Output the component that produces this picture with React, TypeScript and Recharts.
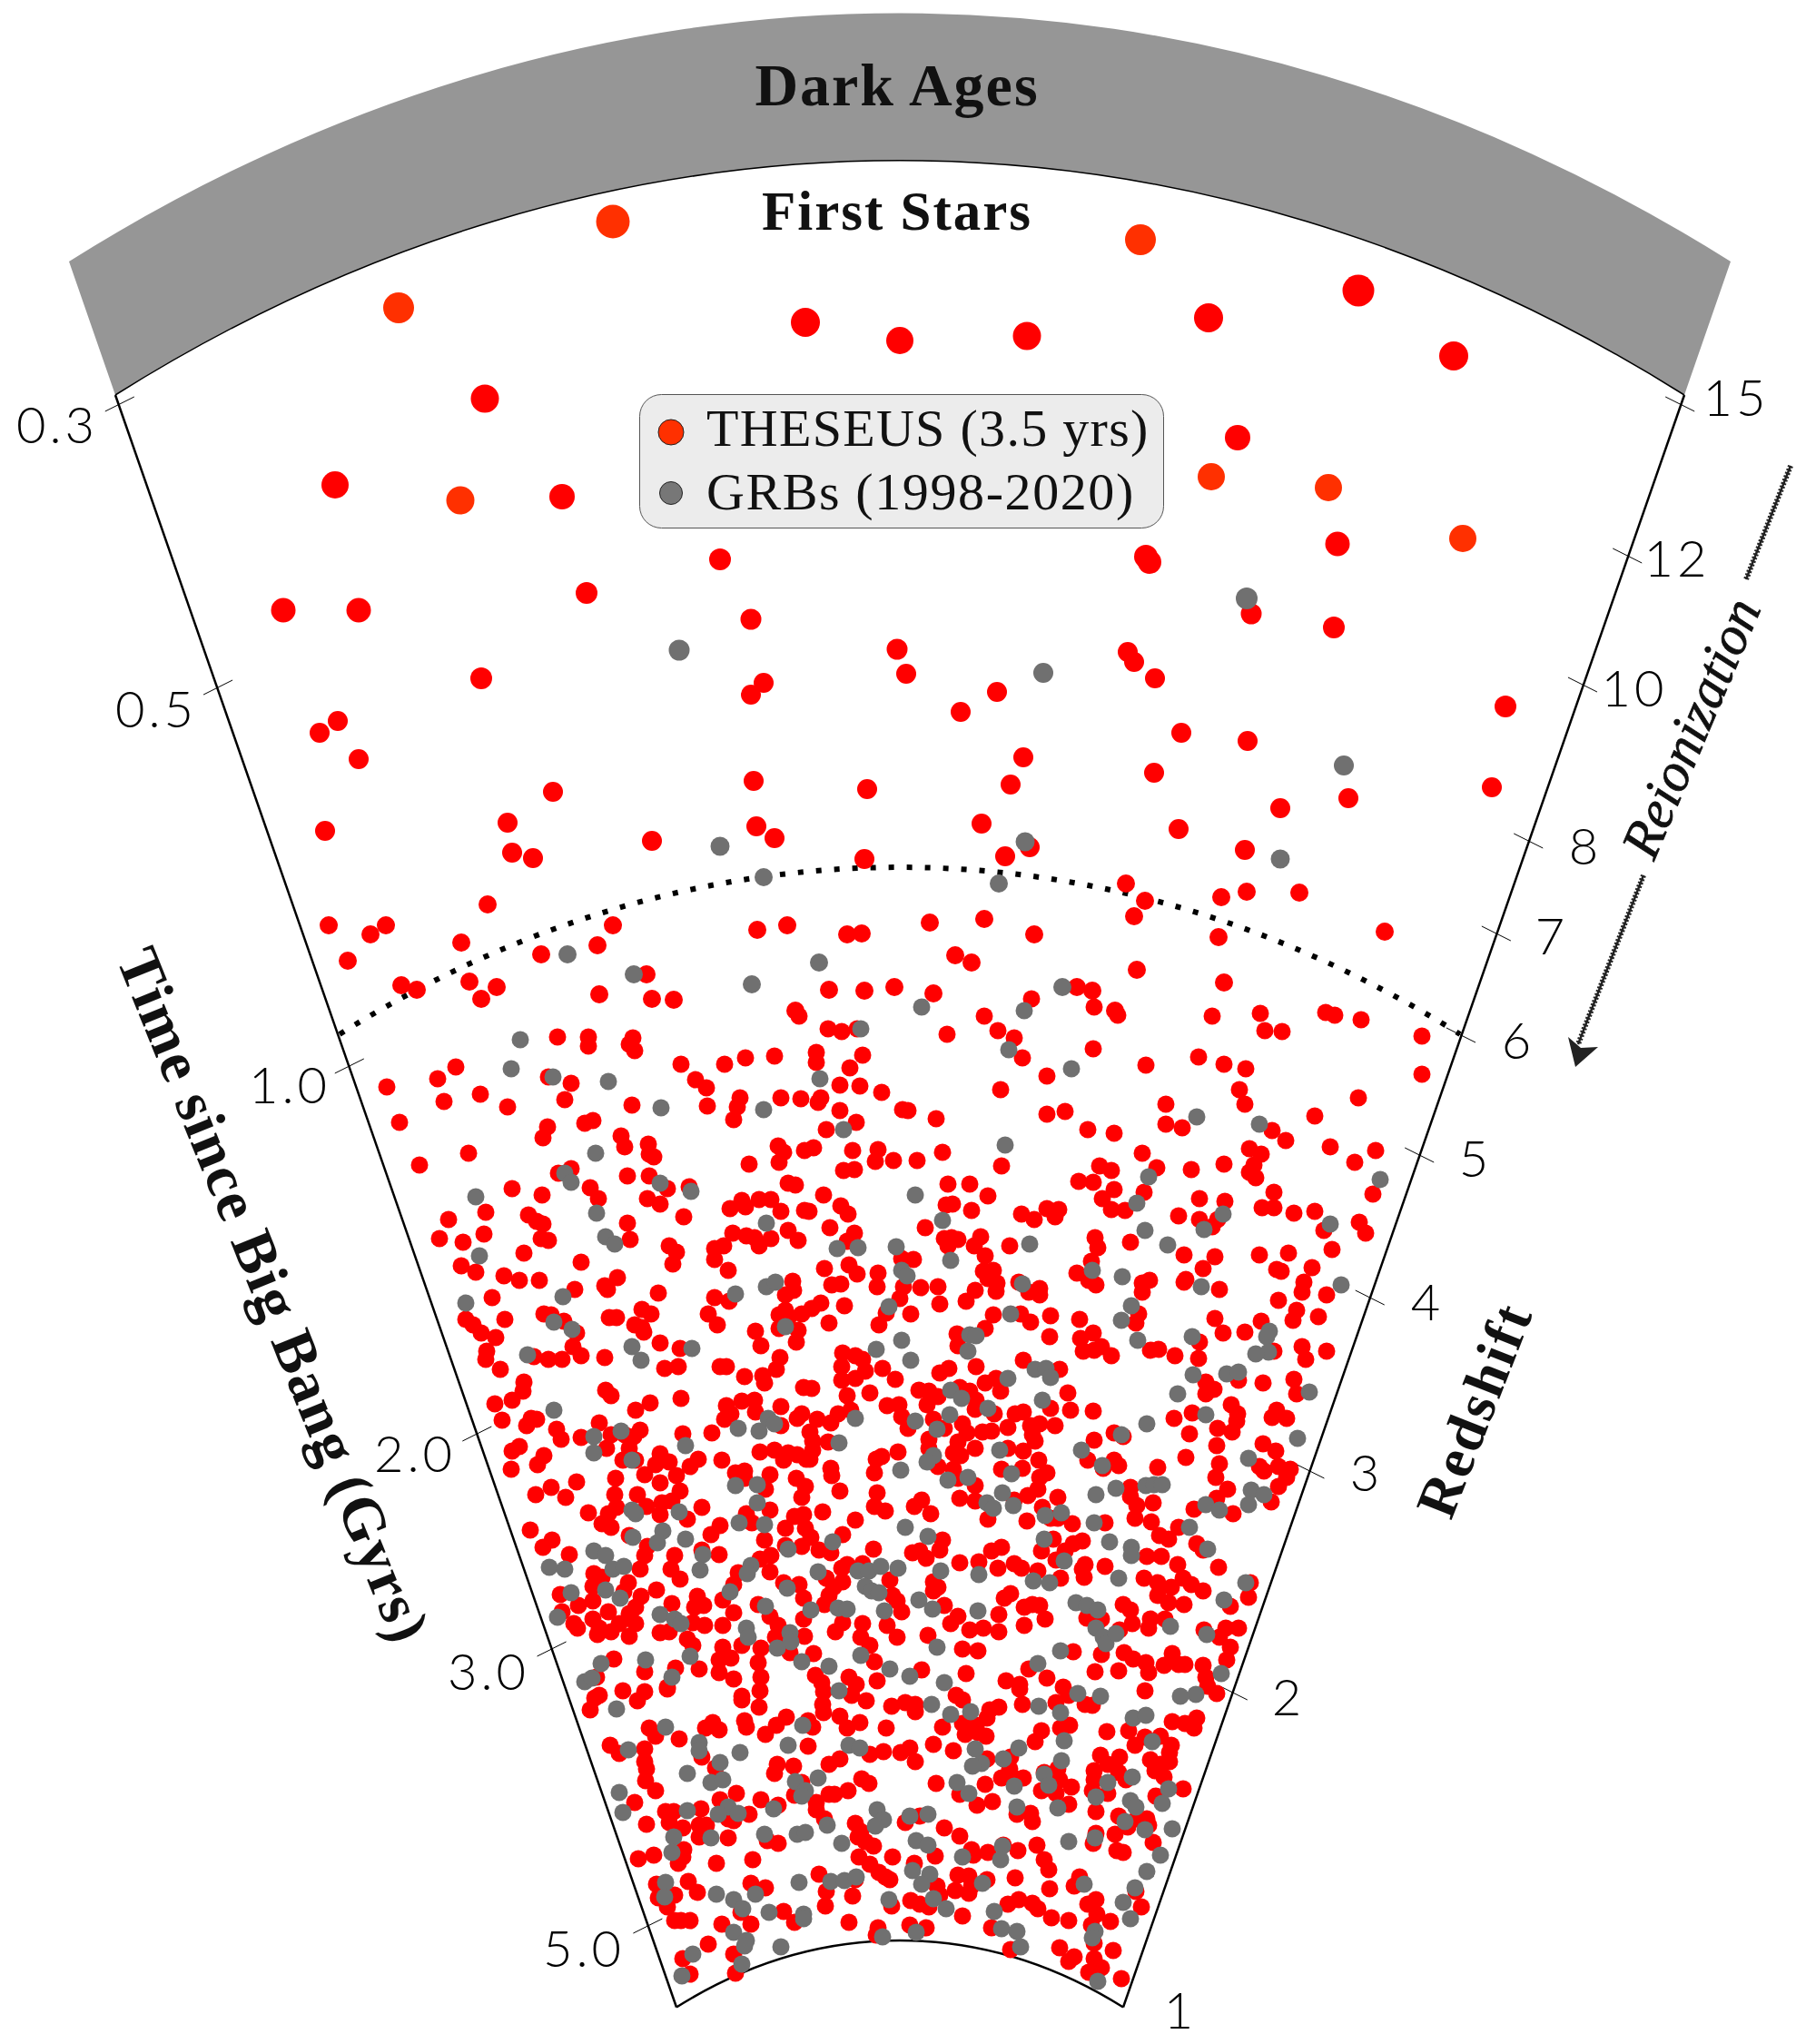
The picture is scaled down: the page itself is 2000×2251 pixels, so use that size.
import React from 'react';
import { ScatterChart, Scatter, XAxis, YAxis, ReferenceLine, Legend } from 'recharts';

type Pt = number[];

// picture coordinates: [x, y] or [x, y, radius]
const firstStarsOrange: Pt[] = [[675,244,18.5],[1256,264,17],[439,339,17],[507,551,15.5],[1334,525,15],[1463,537,15],[1611,593,15]];
const theseusBright: Pt[] = [[887,355,16],[991,375,15],[1131,370,15.5],[1331,350,16],[1496,320,17.5],[1601,392,16],[534,439,15.5],[369,534,15],[619,547,14],[1363,482,14],[1473,599,13.5],[1262,613,13],[1266,619,13],[793,616,12],[646,653,12],[312,672,13.5],[395,672,13.5],[827,682,11.5],[1378,676,11.5],[1469,691,12],[988,715,11.5],[530,747,12],[1658,778,12]];
const theseusUpper: Pt[] = [[1242,718],[1249,729],[1272,747],[998,742],[841,752],[827,765],[1098,762],[1058,784],[372,794],[352,807],[1301,807],[1374,816],[395,836],[1127,834],[1271,851],[830,860],[1113,864],[955,869],[1643,867],[1485,879],[609,872],[1410,890],[559,906],[358,915],[833,910],[1081,907],[853,923],[1298,913],[718,926],[1134,933],[1371,936],[564,939],[587,945],[952,946],[1107,943]];
const theseusMiddle: Pt[] = [[1240,973],[1431,983],[1373,982],[1345,988],[1261,992],[537,996],[1084,1012],[1249,1009],[362,1019],[425,1019],[408,1029],[675,1019],[834,1024],[867,1019],[1024,1016],[1525,1026],[933,1029],[949,1028],[1139,1029],[1342,1032],[508,1038],[658,1041],[383,1058],[596,1051],[1052,1052],[1070,1060],[1252,1068],[712,1073],[442,1085],[459,1090],[517,1081],[547,1087],[913,1090],[952,1091],[985,1087],[1348,1082],[1186,1087],[1203,1091],[660,1095],[530,1100],[718,1100],[742,1101],[876,1113],[1028,1094],[1228,1113]];
const theseusLeftUpper: Pt[] = [[426,1197],[440,1236],[462,1283],[482,1188],[502,1175],[489,1213],[529,1205],[559,1219],[516,1270],[614,1142],[648,1142],[648,1152],[697,1143],[693,1150],[699,1157],[604,1186],[629,1193],[622,1211],[603,1241],[598,1253],[644,1237],[653,1234],[696,1217],[684,1251],[688,1263],[714,1260],[715,1271],[720,1274],[750,1172],[766,1189],[778,1198],[779,1218],[798,1172],[821,1165],[853,1163],[815,1209],[812,1219],[808,1233],[860,1209],[882,1210],[904,1209],[901,1214],[880,1119],[912,1133],[927,1136],[944,1133],[899,1159],[899,1170],[950,1162],[936,1176],[925,1195],[947,1196],[971,1203],[925,1223],[943,1236],[910,1244],[994,1222],[857,1262],[863,1269],[858,1280],[825,1282],[886,1267],[896,1264],[939,1267],[967,1266],[964,1279],[984,1278],[929,1289],[941,1288],[615,1292],[629,1287],[564,1309],[597,1316],[650,1308],[659,1320],[691,1295],[715,1295],[735,1309],[759,1307],[713,1320],[727,1326],[753,1340],[868,1303],[876,1305],[907,1316],[926,1328],[934,1337],[804,1331],[817,1322],[821,1329],[836,1321],[849,1321],[860,1334],[886,1333],[891,1334],[914,1352],[941,1358],[933,1367],[535,1335],[494,1343],[533,1359],[484,1364],[510,1368],[582,1338],[591,1345],[598,1348],[596,1364],[604,1366],[577,1380],[691,1347],[694,1365],[640,1390],[737,1372],[745,1379],[741,1392],[807,1358],[822,1361],[831,1363],[836,1372],[849,1364],[868,1355],[879,1366],[787,1375],[797,1372],[787,1387],[802,1399],[908,1397],[935,1393],[944,1403],[967,1402],[966,1417],[993,1386],[508,1394],[524,1401],[555,1405],[572,1410],[594,1410],[680,1407],[666,1416],[669,1420],[633,1420],[725,1424],[542,1429],[873,1411],[874,1421],[865,1426],[916,1415],[926,1414],[995,1417],[991,1430],[787,1429],[803,1433],[930,1438],[904,1435],[894,1441],[883,1447],[865,1443],[858,1448],[869,1450],[780,1447],[790,1459],[976,1446],[968,1459],[913,1457],[707,1442],[717,1447],[671,1451],[679,1451],[699,1459],[707,1462],[709,1467],[599,1447],[607,1448],[621,1455],[635,1468],[556,1453],[513,1453],[521,1459],[530,1468],[546,1473],[832,1466],[838,1482],[858,1463],[879,1465],[877,1478],[727,1479],[749,1485],[631,1483],[640,1493],[536,1488],[535,1497],[859,1495],[928,1490],[942,1493],[950,1497],[666,1495],[588,1494],[604,1497],[619,1497]];
const theseusRightUpper: Pt[] = [[1043,1139],[1084,1119],[1099,1135],[1117,1143],[1126,1165],[1136,1100],[1205,1109],[1231,1118],[1204,1155],[1153,1185],[1102,1200],[1262,1173],[1335,1119],[1388,1116],[1393,1135],[1412,1136],[1460,1115],[1470,1118],[1499,1123],[1566,1141],[1566,1183],[1320,1164],[1348,1172],[1372,1177],[1365,1200],[1371,1216],[1496,1209],[1448,1229],[1284,1216],[1284,1238],[1302,1242],[1401,1245],[1416,1256],[1465,1263],[1515,1267],[1492,1280],[1376,1265],[1389,1271],[1381,1283],[1376,1291],[1383,1297],[1348,1282],[1312,1288],[1258,1270],[1274,1286],[1211,1284],[1224,1289],[1188,1301],[1204,1302],[1227,1310],[1260,1313],[1214,1320],[1224,1332],[1239,1333],[1403,1313],[1390,1330],[1403,1330],[1425,1336],[1448,1334],[1458,1355],[1497,1346],[1504,1358],[1512,1315],[1467,1376],[1321,1320],[1349,1323],[1298,1339],[1321,1343],[1341,1343],[1335,1351],[1245,1368],[1206,1363],[1209,1374],[1202,1389],[1186,1402],[1199,1410],[1207,1415],[1304,1382],[1338,1384],[1325,1397],[1306,1409],[1304,1412],[1343,1420],[1387,1382],[1419,1380],[1406,1398],[1411,1400],[1445,1396],[1436,1412],[1434,1423],[1461,1426],[1408,1432],[1428,1443],[1424,1454],[1452,1450],[1389,1455],[1338,1452],[1347,1468],[1371,1467],[1434,1483],[1461,1488],[1438,1497],[1403,1488],[1266,1410],[1258,1413],[1258,1423],[1254,1447],[1251,1457],[1321,1478],[1320,1496],[1294,1493],[1276,1486],[1267,1487],[1189,1453],[1156,1472],[1157,1449],[1135,1456],[1124,1447],[1127,1498],[1204,1468],[1190,1474],[1213,1483],[1193,1488],[1205,1487],[1224,1493],[1000,1223],[1031,1232],[1153,1227],[1173,1224],[1198,1244],[1227,1248],[1038,1269],[1010,1278],[1103,1284],[1044,1304],[1068,1304],[1088,1317],[1049,1326],[1042,1327],[1070,1333],[1019,1352],[1125,1337],[1139,1343],[1153,1331],[1166,1332],[1162,1340],[1040,1364],[1048,1363],[1055,1365],[1044,1372],[1080,1362],[1073,1372],[1085,1383],[1112,1372],[1006,1387],[1083,1400],[1094,1399],[1088,1408],[1098,1413],[1074,1421],[1097,1422],[1064,1433],[1014,1418],[1033,1417],[1035,1436],[1003,1447],[1122,1412],[1133,1423],[1145,1419],[1145,1426],[1094,1448],[1085,1463],[1054,1469],[1055,1482]];
const theseusLeftMiddle: Pt[] = [[551,1508],[577,1522],[576,1532],[564,1542],[545,1546],[553,1564],[580,1570],[591,1563],[585,1562],[613,1574],[618,1585],[640,1583],[572,1593],[564,1598],[599,1603],[592,1613],[563,1618],[635,1632],[607,1638],[590,1646],[623,1649],[648,1666],[584,1685],[608,1696],[598,1704],[627,1712],[667,1531],[673,1537],[700,1553],[716,1545],[750,1540],[660,1567],[668,1595],[673,1580],[688,1580],[705,1575],[698,1582],[693,1595],[686,1608],[700,1608],[752,1579],[727,1601],[737,1610],[722,1613],[710,1624],[760,1615],[769,1607],[745,1625],[727,1633],[678,1628],[749,1642],[677,1646],[702,1646],[679,1660],[670,1667],[712,1659],[729,1655],[740,1653],[727,1668],[757,1673],[773,1660],[663,1678],[673,1682],[693,1691],[793,1680],[783,1690],[713,1703],[710,1713],[792,1712],[773,1707],[743,1713],[739,1728],[749,1739],[705,1728],[654,1733],[653,1747],[663,1737],[692,1743],[687,1753],[723,1751],[617,1756],[637,1768],[653,1763],[706,1758],[700,1770],[670,1775],[619,1775],[653,1783],[632,1788],[636,1793],[660,1793],[673,1797],[682,1788],[693,1777],[700,1788],[693,1802],[658,1800],[740,1766],[727,1798],[737,1797],[768,1758],[775,1768],[765,1770],[763,1787],[776,1790],[757,1805],[763,1812],[770,1838],[744,1837],[735,1858],[676,1827],[710,1841],[657,1847],[660,1867],[686,1862],[710,1863],[784,1578],[795,1608],[800,1548],[798,1563],[805,1557],[817,1543],[831,1542],[832,1555],[820,1516],[842,1523],[840,1515],[855,1508],[793,1505],[800,1505],[732,1507],[747,1505],[860,1549],[860,1570],[883,1557],[878,1562],[900,1563],[915,1567],[923,1557],[937,1553],[892,1577],[895,1587],[912,1588],[895,1597],[888,1607],[878,1602],[868,1600],[863,1608],[853,1597],[837,1599],[892,1607],[885,1528],[894,1529],[933,1537],[958,1534],[927,1505],[927,1520],[942,1518],[953,1510],[972,1507],[986,1519],[977,1548],[990,1547],[993,1560],[1000,1573],[989,1599],[971,1604],[965,1607],[963,1622],[915,1617],[916,1625],[925,1642],[966,1644],[963,1659],[975,1664],[906,1665],[942,1674],[848,1624],[877,1628],[887,1637],[883,1649],[848,1663],[843,1640],[820,1620],[810,1622],[820,1628],[822,1667],[828,1677],[842,1696],[865,1683],[875,1670],[885,1668],[887,1683],[893,1693],[928,1690],[883,1703],[865,1702],[902,1707],[915,1710],[962,1706],[837,1717],[849,1713],[848,1731],[813,1732],[933,1723],[927,1727],[910,1738],[928,1742],[918,1748],[980,1740],[950,1722],[863,1743],[880,1745],[885,1760],[908,1767],[913,1757],[835,1767],[848,1780],[857,1790],[808,1745],[796,1762],[808,1776],[796,1790],[885,1783],[886,1802],[854,1803],[928,1787],[920,1797],[950,1788],[948,1803],[958,1812],[977,1790],[988,1803],[988,1763],[993,1775],[796,1814],[792,1828],[805,1826],[817,1812],[838,1815],[835,1831],[792,1842],[808,1849],[838,1847],[837,1862],[817,1868],[896,1821],[870,1820],[898,1845],[905,1853],[907,1863],[935,1847],[943,1855],[966,1851],[963,1830],[983,1757]];
const theseusRightMiddle: Pt[] = [[1035,1512],[1045,1507],[1075,1505],[1012,1531],[1023,1532],[1033,1538],[1021,1547],[1057,1528],[1068,1532],[1085,1523],[1097,1518],[1102,1532],[1075,1542],[1074,1552],[1095,1557],[1028,1563],[1040,1573],[1023,1585],[1023,1595],[1033,1615],[1060,1568],[1065,1578],[1055,1588],[1050,1600],[1058,1603],[1074,1595],[1082,1577],[1092,1576],[1050,1618],[1055,1628],[1074,1636],[1057,1650],[1074,1653],[1110,1572],[1118,1557],[1127,1555],[1135,1570],[1145,1568],[1162,1570],[1137,1580],[1140,1587],[1110,1595],[1127,1598],[1144,1608],[1103,1618],[1126,1617],[1153,1622],[1145,1627],[1143,1640],[1132,1647],[1117,1652],[1176,1534],[1179,1553],[1157,1551],[1204,1554],[1167,1508],[1165,1649],[1148,1660],[1131,1675],[1088,1673],[1157,1672],[1181,1678],[1165,1672],[1015,1652],[1007,1659],[1025,1667],[1205,1586],[1227,1578],[1237,1582],[1198,1608],[1227,1608],[1232,1614],[1215,1617],[1275,1616],[1245,1638],[1245,1648],[1270,1655],[1252,1658],[1250,1672],[1268,1676],[1277,1691],[1287,1695],[1298,1682],[1217,1677],[1293,1562],[1313,1556],[1310,1579],[1306,1605],[1328,1522],[1337,1530],[1328,1535],[1391,1523],[1364,1520],[1425,1519],[1428,1535],[1356,1547],[1363,1557],[1362,1565],[1341,1573],[1357,1577],[1340,1592],[1343,1612],[1339,1627],[1352,1640],[1340,1650],[1406,1553],[1401,1561],[1417,1562],[1391,1590],[1405,1598],[1387,1615],[1392,1620],[1408,1615],[1421,1618],[1417,1627],[1408,1637],[1400,1654],[1315,1662],[1358,1667],[1318,1700],[1325,1707],[1342,1726],[1297,1723],[1279,1714],[1263,1714],[1260,1738],[1275,1743],[1303,1738],[1290,1748],[1312,1745],[1325,1752],[1275,1757],[1287,1765],[1304,1767],[1375,1759],[1355,1769],[1377,1743],[1217,1725],[1195,1723],[1192,1728],[1194,1737],[1237,1767],[1245,1773],[1247,1788],[1233,1795],[1197,1782],[1213,1783],[1213,1822],[1267,1783],[1283,1783],[1265,1793],[1326,1795],[1350,1793],[1364,1793],[1343,1803],[1355,1814],[1351,1828],[1238,1820],[1248,1827],[1262,1831],[1265,1842],[1282,1834],[1291,1821],[1298,1833],[1305,1833],[1325,1834],[1328,1847],[1330,1857],[1340,1865],[1206,1841],[1232,1840],[1261,1862],[1182,1819],[1038,1696],[1035,1707],[1020,1716],[1005,1710],[1013,1708],[1057,1721],[1078,1720],[1092,1708],[1103,1704],[1099,1727],[1117,1722],[1125,1727],[1143,1730],[1147,1708],[1160,1695],[1163,1718],[1173,1708],[1182,1700],[1192,1697],[1168,1738],[1028,1742],[1028,1752],[1033,1748],[1040,1768],[1055,1780],[1047,1788],[1068,1795],[1083,1793],[1077,1818],[1060,1816],[1100,1797],[1100,1778],[1106,1760],[1113,1755],[1128,1770],[1128,1790],[1137,1767],[1145,1768],[1151,1783],[1022,1801],[1015,1839],[1064,1843],[1108,1851],[1123,1855],[1133,1838],[1153,1848],[1171,1858]];
const theseusLeftLower: Pt[] = [[650,1883],[655,1870],[702,1873],[735,1860],[715,1903],[722,1912],[748,1915],[672,1922],[682,1931],[710,1926],[710,1940],[712,1948],[711,1961],[722,1972],[699,1985],[785,1897],[777,1903],[792,1905],[773,1935],[788,1947],[817,1872],[836,1880],[820,1895],[822,1902],[843,1910],[855,1900],[866,1891],[890,1895],[895,1902],[890,1923],[906,1877],[907,1886],[938,1867],[954,1873],[925,1890],[933,1903],[947,1897],[982,1879],[976,1903],[997,1875],[856,1943],[853,1953],[874,1945],[913,1943],[925,1937],[883,1963],[875,1977],[913,1976],[919,1976],[934,1972],[949,1959],[957,1964],[958,1932],[973,1929],[992,1930],[899,1985],[899,1993],[908,2003],[838,1982],[857,1988],[811,1975],[793,1982],[742,1995],[733,1995],[737,2007],[752,2013],[712,2009],[772,1992],[770,2010],[778,2010],[770,2023],[802,2024],[825,1998],[808,2005],[802,2003],[845,2027],[857,2030],[753,2037],[752,2045],[747,2052],[720,2043],[703,2047],[789,2052],[829,2048],[942,2008],[948,2017],[945,2023],[953,2028],[962,2033],[946,2045],[958,2053],[968,2062],[975,2067],[980,2070],[983,2045],[997,2007],[758,2072],[768,2084],[723,2075],[725,2090],[743,2087],[735,2100],[743,2115],[750,2115],[760,2115],[827,2074],[843,2079],[816,2106],[827,2119],[795,2119],[863,2105],[875,2117],[902,2064],[910,2083],[909,2099],[939,2088],[942,2070],[935,2117],[982,2099],[780,2141],[752,2157],[760,2174],[808,2152],[810,2173],[967,2123],[965,2131]];
const theseusRightLower: Pt[] = [[1008,1877],[1008,1885],[1053,1867],[1060,1872],[1100,1880],[1090,1883],[1126,1877],[1123,1860],[1163,1875],[1177,1867],[1195,1877],[1203,1878],[1038,1902],[1028,1921],[1050,1928],[1060,1898],[1063,1910],[1075,1900],[1087,1892],[1086,1912],[1077,1908],[1178,1900],[1168,1903],[1147,1906],[1140,1918],[1219,1907],[1243,1906],[1291,1896],[1305,1898],[1318,1892],[1315,1903],[1250,1922],[1261,1913],[1278,1912],[1290,1922],[1288,1930],[1267,1938],[1278,1943],[1288,1940],[1272,1950],[1282,1957],[1212,1933],[1233,1935],[1205,1950],[1220,1943],[1232,1952],[1240,1960],[1205,1960],[1203,1972],[1220,1975],[1303,1970],[1273,1978],[1002,1925],[1008,1940],[1031,1964],[1057,1976],[1085,1965],[1093,1984],[1076,1988],[1087,1937],[1113,1935],[1112,1948],[1103,1958],[1127,1958],[1115,1957],[1150,1952],[1165,1948],[1167,1960],[1180,1968],[1147,1972],[1163,1975],[1177,1987],[1120,1998],[1135,1997],[1137,2006],[1207,1995],[1232,2000],[1242,2012],[1228,2020],[1263,2003],[1265,2010],[1270,2029],[1252,2003],[1013,2000],[1040,2013],[1057,2022],[1070,2037],[1030,2044],[1072,2043],[1088,2040],[1105,2032],[1121,2038],[1142,2032],[1150,2048],[1155,2059],[1118,2068],[1156,2080],[1204,2030],[1207,2019],[1230,2038],[1237,2040],[1007,2052],[1055,2065],[1067,2066],[1052,2082],[1067,2085],[1070,2077],[1087,2070],[1032,2077],[1035,2087],[1189,2067],[1183,2077],[1207,2092],[1198,2097],[1208,2108],[1223,2116],[1202,2120],[1257,2100],[1251,2083],[1003,2093],[1013,2097],[1023,2100],[1060,2110],[1002,2120],[1020,2123],[1110,2097],[1122,2092],[1137,2096],[1143,2102],[1158,2112],[1177,2115],[1092,2123],[1113,2147],[1167,2145],[1183,2155],[1177,2160],[1205,2140],[1226,2148],[1205,2157],[1213,2167],[1199,2172],[1235,2179]];

const grbUpper: Pt[] = [[1373,659,12],[748,716,11.5],[1149,741,11],[1480,843,11],[793,932,10.5],[1129,927,10.5],[1410,946,10.5],[841,966,10],[1100,973,10],[625,1051,10],[902,1060,10],[698,1073,10],[828,1084,10],[1170,1087,10]];
const grbLeftUpper: Pt[] = [[573,1145],[563,1177],[609,1186],[670,1191],[728,1220],[841,1222],[903,1188],[948,1133],[929,1244],[1015,1109],[656,1270],[622,1292],[629,1302],[727,1303],[761,1312],[524,1318],[657,1336],[844,1347],[528,1383],[667,1362],[677,1370],[922,1375],[945,1374],[987,1373],[993,1399],[999,1405],[844,1417],[854,1412],[810,1425],[620,1428],[513,1435],[979,1439],[865,1461],[610,1456],[630,1464],[993,1476],[965,1486],[696,1483],[762,1485],[581,1492],[706,1498]];
const grbRightUpper: Pt[] = [[1128,1113],[1111,1156],[1180,1177],[1107,1261],[1008,1316],[1038,1344],[1047,1388],[1134,1370],[1318,1230],[1387,1238],[1265,1296],[1252,1325],[1261,1355],[1286,1371],[1347,1337],[1326,1354],[1465,1348],[1520,1299],[1203,1399],[1236,1406],[1323,1417],[1477,1415],[1246,1438],[1235,1454],[1253,1476],[1313,1472],[1126,1414],[1113,1447],[1068,1470],[1075,1471],[1066,1488],[1398,1466],[1395,1472],[1397,1489],[1383,1491],[1003,1498]];
const grbLeftMiddle: Pt[] = [[610,1553],[654,1582],[654,1600],[684,1576],[696,1608],[755,1592],[813,1573],[836,1576],[846,1562],[853,1568],[942,1562],[924,1589],[810,1636],[834,1635],[834,1655],[814,1677],[842,1679],[696,1663],[700,1667],[748,1665],[697,1693],[730,1686],[724,1699],[755,1695],[654,1708],[667,1713],[675,1728],[687,1725],[605,1726],[622,1728],[667,1751],[683,1760],[629,1754],[614,1781],[774,1712],[771,1729],[727,1778],[743,1783],[750,1788],[827,1724],[823,1733],[804,1753],[868,1706],[917,1698],[901,1731],[867,1749],[843,1769],[893,1773],[923,1771],[933,1772],[945,1730],[957,1730],[970,1725],[989,1727],[953,1747],[960,1752],[968,1754],[974,1774],[992,1619],[997,1682],[822,1793],[824,1803],[870,1798],[871,1808],[856,1815],[883,1830],[913,1835],[948,1823],[980,1838],[924,1862],[760,1824],[711,1828],[662,1832],[644,1852],[652,1848],[740,1847]];
const grbRightMiddle: Pt[] = [[1110,1518],[1047,1531],[1059,1540],[1088,1551],[1046,1558],[1008,1565],[1032,1574],[1140,1508],[1152,1507],[1157,1517],[1148,1542],[1101,1597],[1028,1603],[1021,1610],[1114,1623],[1066,1627],[1044,1630],[1104,1644],[1087,1655],[1094,1661],[1116,1658],[1151,1669],[1169,1666],[1022,1692],[1150,1695],[1172,1719],[1036,1730],[1078,1734],[1138,1741],[1156,1743],[1012,1762],[1027,1772],[1077,1774],[1032,1814],[1040,1853],[1002,1846],[1143,1832],[1168,1818],[1185,1765],[1197,1768],[1209,1773],[1207,1793],[1215,1803],[1218,1810],[1229,1799],[1187,1865],[1212,1868],[1235,1580],[1263,1568],[1297,1535],[1314,1514],[1351,1513],[1364,1511],[1328,1558],[1442,1533],[1429,1584],[1375,1606],[1191,1597],[1214,1614],[1207,1646],[1229,1639],[1262,1636],[1271,1635],[1280,1635],[1378,1641],[1392,1646],[1375,1657],[1328,1657],[1343,1663],[1310,1682],[1205,1677],[1222,1698],[1246,1704],[1246,1713],[1330,1706],[1232,1738],[1372,1743],[1348,1762],[1289,1791],[1329,1800],[1345,1843],[1317,1866],[1300,1868]];
const grbLeftLower: Pt[] = [[679,1882],[733,1902],[692,1927],[770,1919],[770,1928],[793,1941],[815,1930],[757,1953],[783,1963],[796,1960],[682,1974],[686,1996],[757,1994],[802,1990],[791,1998],[813,1997],[742,2023],[740,2040],[783,2024],[842,2020],[852,1992],[884,1900],[868,1922],[935,1922],[947,1925],[876,1962],[887,1972],[883,1978],[901,1958],[911,2010],[878,2020],[887,2018],[927,2030],[966,1993],[973,2004],[964,2011],[915,2072],[930,2071],[943,2067],[880,2073],[733,2073],[732,2089],[789,2086],[808,2092],[818,2102],[832,2086],[847,2106],[885,2108],[885,2113],[808,2128],[822,2137],[820,2143],[817,2163],[860,2144],[763,2152],[751,2176],[979,2092],[972,2133]];
const grbRightLower: Pt[] = [[1026,1877],[1047,1888],[1069,1885],[1144,1879],[1168,1886],[1248,1892],[1262,1889],[1269,1918],[1172,1917],[1169,1939],[1122,1925],[1105,1937],[1074,1926],[1081,1942],[1071,1945],[1150,1954],[1155,1966],[1117,1967],[1054,1963],[1067,1975],[1120,1990],[1165,1991],[1220,1963],[1207,1979],[1247,1957],[1287,1970],[1280,1986],[1245,1983],[1251,1990],[1239,2006],[1261,2015],[1291,2014],[1206,2024],[1177,2028],[1278,2043],[1263,2061],[1250,2079],[1237,2095],[1245,2113],[1194,2075],[1022,1998],[1002,2000],[1009,2027],[1022,2032],[1060,2045],[1104,2033],[1102,2048],[1005,2060],[1024,2064],[1015,2075],[1028,2091],[1042,2102],[1082,2074],[1095,2105],[1103,2124],[1120,2127],[1124,2144],[1009,2128],[1206,2127],[1203,2134],[1209,2182]];

const timeTicks = [['0.3', 445], ['0.5', 757], ['1.0', 1174], ['2.0', 1579], ['3.0', 1816], ['5.0', 2121]] as const;
const redshiftTicks = [['15', 445], ['12', 612], ['10', 754], ['8', 926], ['7', 1028], ['6', 1140], ['5', 1272], ['4', 1429], ['3', 1620], ['2', 1864]] as const;
const timeLabels = [[63, 466], [172, 779], [319, 1193], [457, 1599], [538, 1839], [643, 2144]];
const redshiftLabels = [[1912, 436], [1847, 613], [1800, 756], [1746, 930], [1709, 1029], [1672, 1144], [1625, 1274], [1572, 1432], [1505, 1620], [1419, 1867], [1300, 2212]];
const redshiftLabelText = ['15', '12', '10', '8', '7', '6', '5', '4', '3', '2', '1'];

const legendEntries = [
  { name: 'THESEUS (3.5 yrs)', color: '#ff3000', r: 14, spacing: 1.3 },
  { name: 'GRBs (1998-2020)', color: '#777777', r: 12.5, spacing: 1.6 },
];

const rows = (pts: Pt[], r: number) => pts.map((p) => ({ x: p[0], y: p[1], r: p[2] ?? r }));

const theseusLower = [...theseusLeftUpper, ...theseusRightUpper, ...theseusLeftMiddle, ...theseusRightMiddle, ...theseusLeftLower, ...theseusRightLower];
const grbLower = [...grbLeftUpper, ...grbRightUpper, ...grbLeftMiddle, ...grbRightMiddle, ...grbLeftLower, ...grbRightLower];

const CX = 991;
const APEX = 2921;
const edgeX = (y: number, side: number) => CX + side * 0.347 * (APEX - y);

const Dot = (props: any) => <circle cx={props.cx} cy={props.cy} r={props.payload.r} fill={props.fill} />;

const serif = '"Liberation Serif", serif';
const sans = 'Lato, sans-serif';

const LegendBox = () => (
  <svg width={578} height={148} style={{ display: 'block' }}>
    <rect x={0.5} y={0.5} width={577} height={147} rx={24} fill="#ececec" stroke="#555" strokeWidth={1} />
    {legendEntries.map((e, i) => (
      <g key={e.name}>
        <circle cx={35} cy={i === 0 ? 42 : 109} r={e.r} fill={e.color} stroke="#222" strokeWidth={1} />
        <text x={74} y={i === 0 ? 57 : 127} fontFamily={serif} fontSize={58} letterSpacing={e.spacing} fill="#111">{e.name}</text>
      </g>
    ))}
  </svg>
);

export default function App() {
  return (
    <div style={{ position: 'absolute', left: 0, top: 0, width: 2000, height: 2251, background: '#fff' }}>
      <ScatterChart width={2000} height={2251} margin={{ top: 0, right: 0, bottom: 0, left: 0 }}>
        <XAxis type="number" dataKey="x" domain={[0, 2000]} hide />
        <YAxis type="number" dataKey="y" domain={[0, 2251]} reversed hide />

        <path d="M76,288 A2160,2905 0 0 1 1906,288 L1855,435 A2040,2743 0 0 0 127,435 Z" fill="#969696" />
        <path d="M127,435 A2040,2743 0 0 1 1855,435" fill="none" stroke="#000" strokeWidth={1.5} />
        <path d="M745,2210.5 A582,784 0 0 1 1237,2210.5" fill="none" stroke="#000" strokeWidth={2.5} />
        <path d="M374,1139 A1461,1966 0 0 1 1608,1139" fill="none" stroke="#000" strokeWidth={6} strokeDasharray="6 14" />

        <ReferenceLine segment={[{ x: 745, y: 2210.5 }, { x: 127, y: 435 }]} stroke="#000" strokeWidth={2.5} />
        <ReferenceLine segment={[{ x: 1237, y: 2210.5 }, { x: 1855, y: 435 }]} stroke="#000" strokeWidth={2.5} />
        {timeTicks.map(([label, y]) => (
          <ReferenceLine key={label} segment={[{ x: edgeX(y, -1) - 16, y: y + 8 }, { x: edgeX(y, -1) + 16, y: y - 8 }]} stroke="#000" strokeWidth={1} />
        ))}
        {redshiftTicks.map(([label, y]) => (
          <ReferenceLine key={label} segment={[{ x: edgeX(y, 1) - 16, y: y - 8 }, { x: edgeX(y, 1) + 16, y: y + 8 }]} stroke="#000" strokeWidth={1} />
        ))}

        <Scatter name="THESEUS (3.5 yrs)" data={rows(theseusLower, 9.5)} fill="#ff0000" shape={Dot} isAnimationActive={false} />
        <Scatter data={rows(theseusMiddle, 10)} fill="#ff0000" shape={Dot} isAnimationActive={false} />
        <Scatter data={rows(theseusUpper, 11)} fill="#ff0000" shape={Dot} isAnimationActive={false} />
        <Scatter data={rows(theseusBright, 13)} fill="#ff0000" shape={Dot} isAnimationActive={false} />
        <Scatter data={rows(firstStarsOrange, 15)} fill="#ff3000" shape={Dot} isAnimationActive={false} />
        <Scatter name="GRBs (1998-2020)" data={rows(grbLower, 9.5)} fill="#707070" shape={Dot} isAnimationActive={false} />
        <Scatter data={rows(grbUpper, 10)} fill="#707070" shape={Dot} isAnimationActive={false} />

        <text x={988} y={116} textAnchor="middle" fontFamily={serif} fontWeight={700} fontSize={66} letterSpacing={2} fill="#111">Dark Ages</text>
        <text x={988} y={253} textAnchor="middle" fontFamily={serif} fontWeight={700} fontSize={61} letterSpacing={2} fill="#111">First Stars</text>
        <text transform="translate(295,1429) rotate(68)" textAnchor="middle" dominantBaseline="middle" fontFamily={serif} fontWeight={700} fontSize={66} letterSpacing={1.6} fill="#111">Time since Big Bang (Gyrs)</text>
        <text transform="translate(1630,1555) rotate(-68.5)" textAnchor="middle" dominantBaseline="middle" fontFamily={serif} fontWeight={700} fontSize={63} letterSpacing={2.5} fill="#111">Redshift</text>
        <text transform="translate(1868,804) rotate(-67)" textAnchor="middle" dominantBaseline="middle" fontFamily={serif} fontStyle="italic" fontSize={60} stroke="#111" strokeWidth={0.8} fill="#111">Reionization</text>

        {timeTicks.map(([label], i) => (
          <text key={label} x={timeLabels[i][0]} y={timeLabels[i][1]} textAnchor="middle" dominantBaseline="central" fontFamily={sans} fontWeight={300} fontSize={56} letterSpacing={4} fill="#000">{label}</text>
        ))}
        {redshiftLabelText.map((label, i) => (
          <text key={label} x={redshiftLabels[i][0]} y={redshiftLabels[i][1]} textAnchor="middle" dominantBaseline="central" fontFamily={sans} fontWeight={300} fontSize={56} letterSpacing={4} fill="#000">{label}</text>
        ))}

        <ReferenceLine segment={[{ x: 1972, y: 513 }, { x: 1923, y: 638 }]} stroke="#222" strokeWidth={2.5} />
        <ReferenceLine segment={[{ x: 1972, y: 513 }, { x: 1923, y: 638 }]} stroke="#222" strokeWidth={6} strokeDasharray="2 2" />
        <ReferenceLine segment={[{ x: 1810, y: 964 }, { x: 1738, y: 1150 }]} stroke="#222" strokeWidth={2.5} />
        <ReferenceLine segment={[{ x: 1810, y: 964 }, { x: 1738, y: 1150 }]} stroke="#222" strokeWidth={6} strokeDasharray="2 2" />
        <path d="M1727,1142 L1741,1154 L1760,1153 L1735,1175 Z" fill="#222" />

        <Legend layout="vertical" align="center" verticalAlign="middle" content={() => <LegendBox />} wrapperStyle={{ left: 704, top: 434, width: 578, height: 148 }} />
      </ScatterChart>
    </div>
  );
}
